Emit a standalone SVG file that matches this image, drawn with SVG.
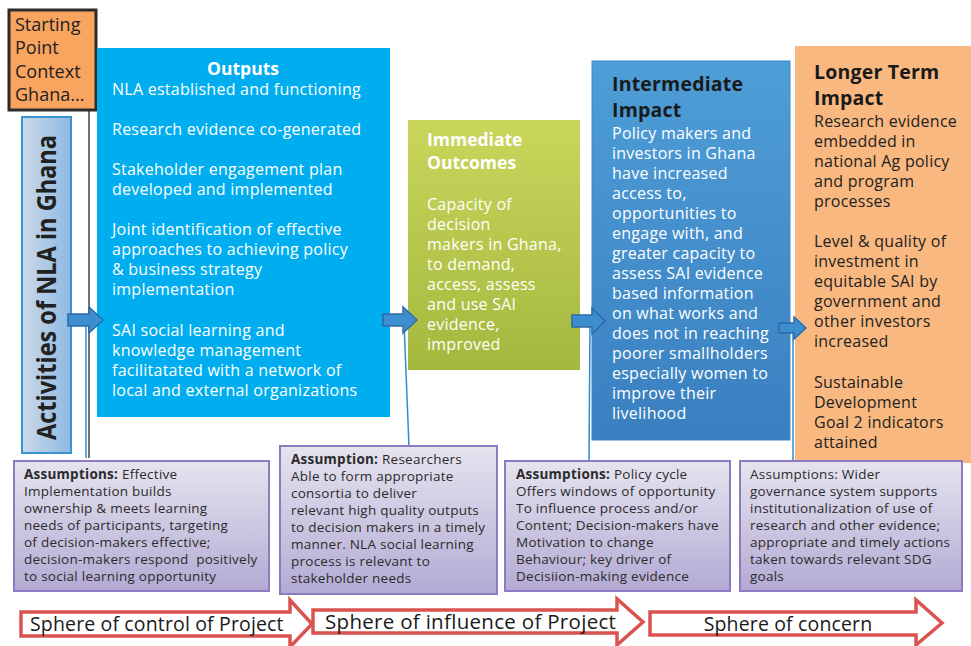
<svg xmlns="http://www.w3.org/2000/svg" width="971" height="646" viewBox="0 0 971 646">
<defs>
<linearGradient id="gAct" x1="0" y1="0" x2="1" y2="0"><stop offset="0" stop-color="#CDD9E8"/><stop offset="1" stop-color="#8DB9E2"/></linearGradient>
<linearGradient id="gImm" x1="0" y1="0" x2="0" y2="1"><stop offset="0" stop-color="#C9D65C"/><stop offset="1" stop-color="#A4B83D"/></linearGradient>
<linearGradient id="gInt" x1="0" y1="0" x2="0" y2="1"><stop offset="0" stop-color="#4E9ED7"/><stop offset="1" stop-color="#3A7FC0"/></linearGradient>
<linearGradient id="gAss" x1="0" y1="0" x2="0" y2="1"><stop offset="0" stop-color="#E6E4EF"/><stop offset="1" stop-color="#B3AAD4"/></linearGradient>
<marker id="up" viewBox="0 0 10 10" refX="5" refY="1" markerWidth="8" markerHeight="8" orient="auto-start-reverse" markerUnits="userSpaceOnUse"><path d="M1,9 L5,1 L9,9" fill="none" stroke="#2E8BD0" stroke-width="1.5"/></marker>
<style>
text{font-family:"Open Sans","Noto Sans","Liberation Sans",sans-serif;}
.w{fill:#FFFFFF;font-size:16px;letter-spacing:0.25px;}
.d{fill:#222222;font-size:16px;letter-spacing:0.25px;}
.sp{fill:#222222;font-size:18px;}
.tw{fill:#FFFFFF;font-size:17.5px;font-weight:bold;}
.td{fill:#1A1A1A;font-size:19.5px;font-weight:bold;letter-spacing:0.2px;}
.as{fill:#2B2B2B;font-size:13.5px;letter-spacing:0.25px;}
.asb{font-weight:bold;}
.ass{fill:url(#gAss);stroke:#8C7BC0;stroke-width:2;}
.barr{fill:#3C8ECF;stroke:#2C6BAA;stroke-width:1.5;}
.sph{fill:#FFFFFF;stroke:#D9534F;stroke-width:3.5;stroke-linejoin:miter;}
.spt{fill:#1A1A1A;font-size:19.5px;letter-spacing:0.15px;}
.con{stroke:#2E8BD0;stroke-width:1.5;fill:none;}
</style>
</defs>
<rect width="971" height="646" fill="#FFFFFF"/>

<g id="connectors">
<line x1="89" y1="110" x2="89" y2="458" stroke="#111111" stroke-width="1.2"/>
<line class="con" x1="86" y1="458" x2="86" y2="321" marker-end="url(#up)"/>
<line class="con" x1="409" y1="447" x2="404" y2="322" marker-end="url(#up)"/>
<line class="con" x1="589" y1="461" x2="590" y2="322" marker-end="url(#up)"/>
<line class="con" x1="793" y1="461" x2="793" y2="330" marker-end="url(#up)"/>
</g>

<g id="starting-point">
<rect x="9" y="10" width="87" height="100" fill="#F9A45F" stroke="#2B2B2B" stroke-width="3"/>
<text class="sp" x="15" y="31">Starting</text>
<text class="sp" x="15" y="54">Point</text>
<text class="sp" x="15" y="78">Context</text>
<text class="sp" x="15" y="101">Ghana...</text>
</g>

<g id="activities">
<rect x="22" y="117" width="49" height="336" fill="url(#gAct)" stroke="#3A93D3" stroke-width="2"/>
<text transform="translate(56,440) rotate(-90)" x="0" y="0" fill="#222222" style="font-size:27px;font-weight:bold" textLength="305" lengthAdjust="spacingAndGlyphs">Activities of NLA in Ghana</text>
</g>

<g id="outputs">
<rect x="97" y="48" width="293" height="369" fill="#00AEEF"/>
<text class="tw" x="243" y="75" text-anchor="middle">Outputs</text>
<text class="w" x="112" y="95">NLA established and functioning</text>
<text class="w" x="112" y="135">Research evidence co-generated</text>
<text class="w" x="112" y="175">Stakeholder engagement plan</text>
<text class="w" x="112" y="195">developed and implemented</text>
<text class="w" x="112" y="235">Joint identification of effective</text>
<text class="w" x="112" y="255">approaches to achieving policy</text>
<text class="w" x="112" y="275">&amp; business strategy</text>
<text class="w" x="112" y="295">implementation</text>
<text class="w" x="112" y="336">SAI social learning and</text>
<text class="w" x="112" y="356">knowledge management</text>
<text class="w" x="112" y="376">facilitatated with a network of</text>
<text class="w" x="112" y="396">local and external organizations</text>
</g>

<g id="immediate-outcomes">
<rect x="408" y="120" width="172" height="250" fill="url(#gImm)"/>
<text class="tw" x="427" y="146">Immediate</text>
<text class="tw" x="427" y="169">Outcomes</text>
<text class="w" x="427" y="210">Capacity of</text>
<text class="w" x="427" y="230">decision</text>
<text class="w" x="427" y="250">makers in Ghana,</text>
<text class="w" x="427" y="270">to demand,</text>
<text class="w" x="427" y="290">access, assess</text>
<text class="w" x="427" y="310">and use SAI</text>
<text class="w" x="427" y="330">evidence,</text>
<text class="w" x="427" y="350">improved</text>
</g>

<g id="intermediate-impact">
<rect x="592" y="61" width="198" height="379" fill="url(#gInt)" stroke="#3C8ACB" stroke-width="1"/>
<text class="td" x="612" y="91">Intermediate</text>
<text class="td" x="612" y="117">Impact</text>
<text class="w" x="612" y="139">Policy makers and</text>
<text class="w" x="612" y="159">investors in Ghana</text>
<text class="w" x="612" y="179">have increased</text>
<text class="w" x="612" y="199">access to,</text>
<text class="w" x="612" y="219">opportunities to</text>
<text class="w" x="612" y="239">engage with, and</text>
<text class="w" x="612" y="259">greater capacity to</text>
<text class="w" x="612" y="279">assess SAI evidence</text>
<text class="w" x="612" y="299">based information</text>
<text class="w" x="612" y="319">on what works and</text>
<text class="w" x="612" y="339">does not in reaching</text>
<text class="w" x="612" y="359">poorer smallholders</text>
<text class="w" x="612" y="379">especially women to</text>
<text class="w" x="612" y="399">improve their</text>
<text class="w" x="612" y="419">livelihood</text>
</g>

<g id="longer-term-impact">
<rect x="795" y="46" width="176" height="417" fill="#F9B880"/>
<text class="td" x="814" y="79">Longer Term</text>
<text class="td" x="814" y="105">Impact</text>
<text class="d" x="814" y="127">Research evidence</text>
<text class="d" x="814" y="147">embedded in</text>
<text class="d" x="814" y="167">national Ag policy</text>
<text class="d" x="814" y="187">and program</text>
<text class="d" x="814" y="207">processes</text>
<text class="d" x="814" y="247">Level &amp; quality of</text>
<text class="d" x="814" y="267">investment in</text>
<text class="d" x="814" y="287">equitable SAI by</text>
<text class="d" x="814" y="307">government and</text>
<text class="d" x="814" y="327">other investors</text>
<text class="d" x="814" y="347">increased</text>
<text class="d" x="814" y="388">Sustainable</text>
<text class="d" x="814" y="408">Development</text>
<text class="d" x="814" y="428">Goal 2 indicators</text>
<text class="d" x="814" y="448">attained</text>
</g>

<g id="flow-arrows">
<path class="barr" d="M68,314 H89 V307 L103,320 L89,333 V326 H68 Z"/>
<path class="barr" d="M383,314 H403 V307 L417,320 L403,333 V326 H383 Z"/>
<path class="barr" d="M572,315 H592 V308 L605,321 L592,334 V327 H572 Z"/>
<path class="barr" d="M779,323 H794 V317 L806,328 L794,339 V333 H779 Z"/>
</g>

<g id="assumption-1">
<rect class="ass" x="14" y="461" width="255" height="130"/>
<text class="as" x="24" y="479"><tspan class="asb">Assumptions:</tspan> Effective</text>
<text class="as" x="24" y="496">Implementation builds</text>
<text class="as" x="24" y="513">ownership &amp; meets learning</text>
<text class="as" x="24" y="530">needs of participants, targeting</text>
<text class="as" x="24" y="547">of decision-makers effective;</text>
<text class="as" x="24" y="564" xml:space="preserve">decision-makers respond  positively</text>
<text class="as" x="24" y="581">to social learning opportunity</text>
</g>

<g id="assumption-2">
<rect class="ass" x="280" y="446" width="217" height="148"/>
<text class="as" x="291" y="464"><tspan class="asb">Assumption:</tspan> Researchers</text>
<text class="as" x="291" y="481">Able to form appropriate</text>
<text class="as" x="291" y="498">consortia to deliver</text>
<text class="as" x="291" y="515">relevant high quality outputs</text>
<text class="as" x="291" y="532">to decision makers in a timely</text>
<text class="as" x="291" y="549">manner. NLA social learning</text>
<text class="as" x="291" y="566">process is relevant to</text>
<text class="as" x="291" y="583">stakeholder needs</text>
</g>

<g id="assumption-3">
<rect class="ass" x="505" y="461" width="225" height="130"/>
<text class="as" x="516" y="479"><tspan class="asb">Assumptions:</tspan> Policy cycle</text>
<text class="as" x="516" y="496">Offers windows of opportunity</text>
<text class="as" x="516" y="513">To influence process and/or</text>
<text class="as" x="516" y="530">Content; Decision-makers have</text>
<text class="as" x="516" y="547">Motivation to change</text>
<text class="as" x="516" y="564">Behaviour; key driver of</text>
<text class="as" x="516" y="581">Decisiion-making evidence</text>
</g>

<g id="assumption-4">
<rect class="ass" x="740" y="461" width="222" height="130"/>
<text class="as" x="750" y="479">Assumptions: Wider</text>
<text class="as" x="750" y="496">governance system supports</text>
<text class="as" x="750" y="513">institutionalization of use of</text>
<text class="as" x="750" y="530">research and other evidence;</text>
<text class="as" x="750" y="547">appropriate and timely actions</text>
<text class="as" x="750" y="564">taken towards relevant SDG</text>
<text class="as" x="750" y="581">goals</text>
</g>

<g id="sphere-control">
<path class="sph" d="M21,612 H290 V600 L312,624 L290,647 V636 H21 Z"/>
<text class="spt" x="30" y="631">Sphere of control of Project</text>
</g>
<g id="sphere-influence">
<path class="sph" d="M313,610 H617 V599 L643,622 L617,645 V633 H313 Z"/>
<text class="spt" x="325" y="629" style="font-size:20.5px;letter-spacing:0.3px">Sphere of influence of Project</text>
</g>
<g id="sphere-concern">
<path class="sph" d="M650,612 H916 V600 L942,623 L916,645 V635 H650 Z"/>
<text class="spt" x="788" y="631" text-anchor="middle">Sphere of concern</text>
</g>
</svg>
